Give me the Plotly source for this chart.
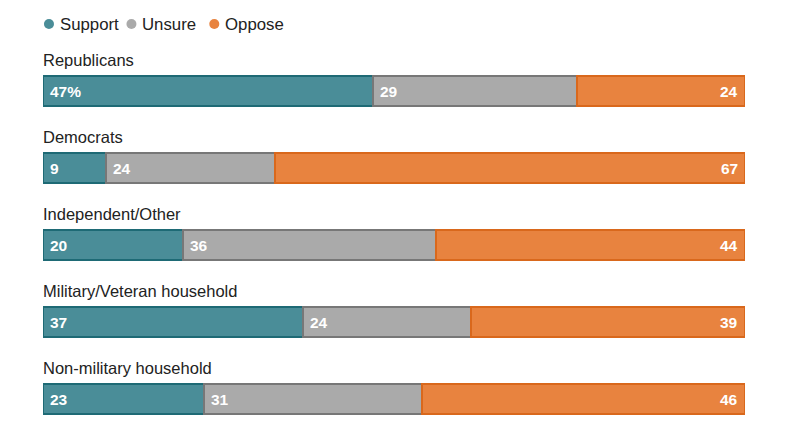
import plotly.graph_objects as go

categories = ["Republicans", "Democrats", "Independent/Other",
              "Military/Veteran household", "Non-military household"]
support = [47, 9, 20, 37, 23]
unsure = [29, 24, 36, 24, 31]
oppose = [24, 67, 44, 39, 46]
series_names = ["Support", "Unsure", "Oppose"]

fills = ["#4a8d98", "#aaaaaa", "#e8833f"]
lines = ["#1e6a75", "#777777", "#d9681c"]

FONT = "Liberation Sans, Arial, sans-serif"
ypos = list(range(len(categories)))
fig = go.Figure()
for name, vals, fc, lc in zip(series_names, [support, unsure, oppose], fills, lines):
    fig.add_trace(go.Bar(
        y=ypos, x=vals, name=name, orientation="h",
        marker=dict(color=fc, line=dict(color=lc, width=2)),
        width=0.40, showlegend=False, hoverinfo="skip"))

annotations = []
shapes = []
lab_font = dict(family=FONT, size=15.5, color="white")
for i, cat in enumerate(categories):
    annotations.append(dict(x=0, y=i - 0.405, xref="x", yref="y", text=cat, xshift=-2,
                            showarrow=False, xanchor="left", yanchor="middle",
                            font=dict(family=FONT, size=16.5, color="#222222")))
    s, u, o = support[i], unsure[i], oppose[i]
    annotations.append(dict(x=0, y=i, xref="x", yref="y", xshift=5,
                            text="<b>%d%s</b>" % (s, "%" if i == 0 else ""),
                            showarrow=False, xanchor="left", yanchor="middle", font=lab_font))
    annotations.append(dict(x=s, y=i, xref="x", yref="y", xshift=5,
                            text="<b>%d</b>" % u,
                            showarrow=False, xanchor="left", yanchor="middle", font=lab_font))
    annotations.append(dict(x=s + u + o, y=i, xref="x", yref="y", xshift=-5,
                            text="<b>%d</b>" % o,
                            showarrow=False, xanchor="right", yanchor="middle", font=lab_font))

# legend (circle markers + labels), positioned in data units above the first bar
legend_y = -0.870
legend_x = [0.85, 12.6, 24.4]
for lx, name, fc in zip(legend_x, series_names, fills):
    shapes.append(dict(type="circle", xref="x", yref="y", xsizemode="pixel", ysizemode="pixel",
                       xanchor=lx, yanchor=legend_y, x0=-5, x1=5, y0=-5, y1=5,
                       fillcolor=fc, line=dict(width=0)))
    annotations.append(dict(x=lx, y=legend_y, xref="x", yref="y", xshift=9,
                            text=name, showarrow=False, xanchor="left", yanchor="middle",
                            font=dict(family=FONT, size=16.8, color="#222222")))

fig.update_layout(
    barmode="stack", width=791, height=440,
    margin=dict(l=35, r=54, t=0, b=0),
    paper_bgcolor="white", plot_bgcolor="white",
    xaxis=dict(range=[0, 100], visible=False, fixedrange=True),
    yaxis=dict(range=[4.636, -1.078], visible=False, fixedrange=True),
    annotations=annotations, shapes=shapes, bargap=0,
)
fig.write_html("out.html")
